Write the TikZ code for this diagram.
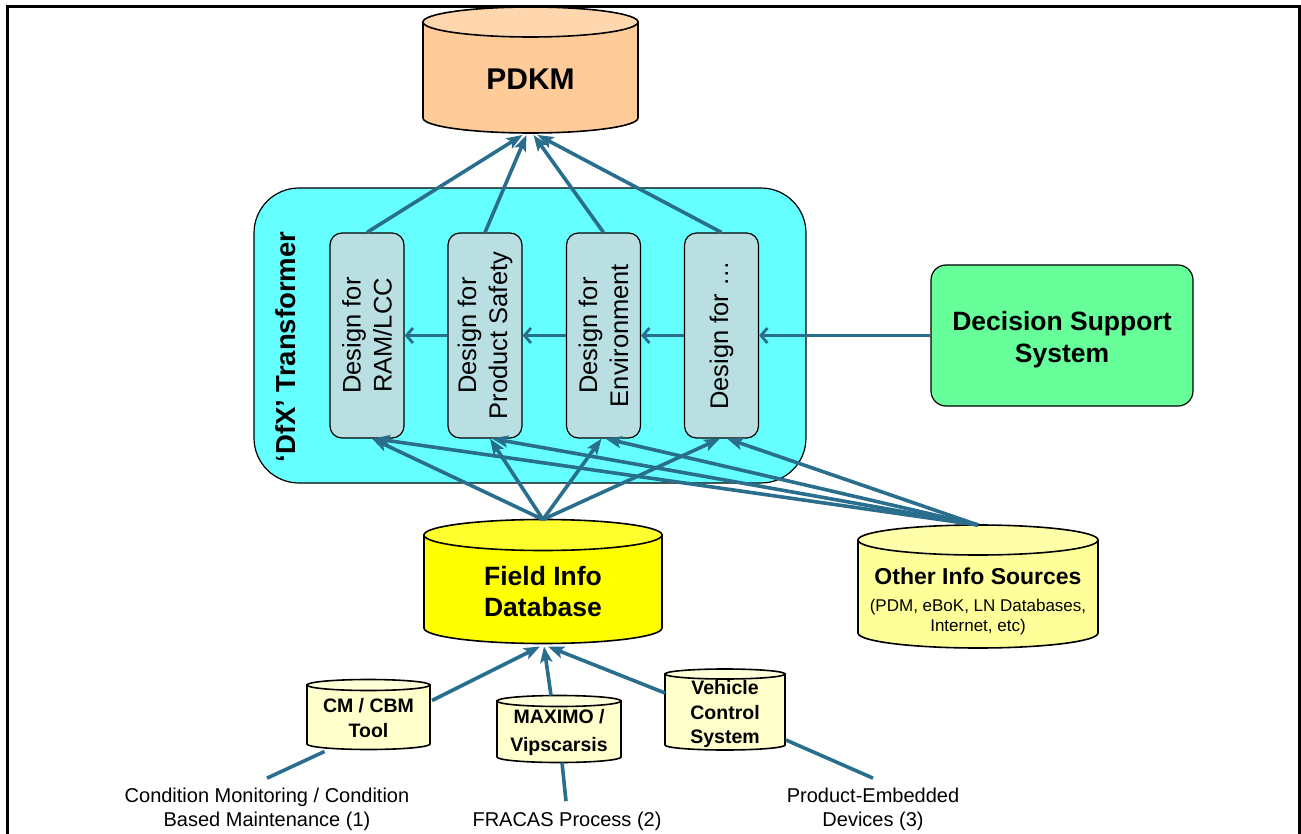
\documentclass[tikz,border=0pt]{standalone}
\usepackage{fontspec}
\setmainfont{Liberation Sans}
\usetikzlibrary{arrows.meta,calc}
\definecolor{conn}{RGB}{41,111,141}
\definecolor{pdkmbody}{HTML}{FFCC99}
\definecolor{pdkmtop}{HTML}{FFD7AE}
\definecolor{fieldbody}{HTML}{FFFF00}
\definecolor{fieldtop}{HTML}{FFFF2E}
\definecolor{otherbody}{HTML}{FFFF99}
\definecolor{othertop}{HTML}{FFFFAA}
\definecolor{smallbody}{HTML}{FFFFCC}
\definecolor{smalltop}{HTML}{FFFFD8}
\definecolor{dfxfill}{HTML}{66FFFF}
\definecolor{innerfill}{HTML}{B9DFE2}
\definecolor{dssfill}{HTML}{66FF99}
\newcommand\fsz[2]{\fontsize{#1}{#2}\selectfont}
% #1 name, #2 cx, #3 top-ellipse centre y, #4 bottom-ellipse centre y, #5 rx, #6 ry, #7 body fill, #8 top fill
\newcommand\dbcyl[8]{%
  \filldraw[cylline, fill=#7] (#2-#5,-#3) -- (#2-#5,-#4)
     arc[start angle=180,end angle=360,x radius=#5,y radius=#6] -- (#2+#5,-#3) -- cycle;
  \filldraw[cylline, fill=#8] (#2,-#3) ellipse[x radius=#5,y radius=#6];
  \node[inner sep=0pt,outer sep=0pt,minimum width={2*#5},minimum height={#4-#3+2*#6}] (#1) at (#2,{-(#3+#4)/2}) {};
}
\tikzset{
  cylline/.style={draw=black, line width=1.6pt},
  conline/.style={draw=conn, line width=3.6pt},
  darrow/.style={conline, -{Stealth[length=16pt,width=12pt,inset=3.5pt]}},
  harrow/.style={conline, -{Straight Barb[length=6.5pt,width=15pt,line width=2.8pt]}},
  innerbox/.style={draw=black, line width=1.2pt, fill=innerfill, rounded corners=12pt,
     minimum width=74pt, minimum height=205pt, inner sep=0pt},
  vtext/.style={rotate=90, align=center, font=\fsz{25.5}{31}},
}
\begin{document}
\begin{tikzpicture}[x=1pt,y=1pt]
\useasboundingbox (0,0) rectangle (1301,-834);
\draw[line width=3pt] (7.5,-834) -- (7.5,-6.5) -- (1299,-6.5) -- (1299,-834);

% DfX transformer
\node[draw=black, line width=1.2pt, fill=dfxfill, rounded corners=45pt,
      minimum width=552pt, minimum height=295pt, inner sep=0pt] (dfx) at (530,-335.5) {};
\node[rotate=90, font=\fsz{27.5}{32}\bfseries] (dfxlabel) at (286,-347) {‘DfX’ Transformer};

\node[innerbox] (b1) at (367,-335.5) {};
\node[innerbox] (b2) at (485,-335.5) {};
\node[innerbox] (b3) at (603.5,-335.5) {};
\node[innerbox] (b4) at (721.5,-335.5) {};
\node[vtext] (t1) at (b1) {Design for\\RAM/LCC};
\node[vtext] (t2) at (b2) {Design for\\Product Safety};
\node[vtext] (t3) at (b3) {Design for\\Environment};
\node[vtext] (t4) at (b4) {Design for …};

% Decision support
\node[draw=black, line width=1.2pt, fill=dssfill, rounded corners=15pt,
      minimum width=262pt, minimum height=141pt, inner sep=0pt,
      align=center, font=\fsz{26.5}{32}\bfseries] (dss) at (1062,-335.5) {};
\node[align=center, font=\fsz{26.5}{32}\bfseries] (dsstxt) at (1062,-340) {Decision Support\\System};

% Cylinders
\dbcyl{pdkm}{530.5}{22}{118}{107.5}{15}{pdkmbody}{pdkmtop}
\node[font=\fsz{30}{36}\bfseries] (pdkmtxt) at (530.5,-79) {PDKM};

\dbcyl{field}{543}{535}{628}{119}{15.5}{fieldbody}{fieldtop}
\node[align=center, font=\fsz{26.5}{31}\bfseries] (fieldtxt) at (543,-592) {Field Info\\Database};

\dbcyl{other}{978}{540}{633}{120}{15}{otherbody}{othertop}
\node[font=\fsz{23}{28}\bfseries] (othertxt) at (978,-576) {Other Info Sources};
\node[align=center, font=\fsz{17}{20}] (othersub) at (978,-617) {(PDM, eBoK, LN Databases,\\Internet, etc)};

\dbcyl{cm}{368.5}{685}{744}{61.5}{5.5}{smallbody}{smalltop}
\node[align=center, font=\fsz{19.5}{25}\bfseries] (cmtxt) at (368.5,-718) {CM / CBM\\Tool};

\dbcyl{max}{559}{701}{757}{62}{5.5}{smallbody}{smalltop}
\node[align=center, font=\fsz{19.5}{28}\bfseries] (maxtxt) at (559,-732) {MAXIMO /\\Vipscarsis};

\dbcyl{veh}{725}{674}{745}{60}{5}{smallbody}{smalltop}
\node[align=center, font=\fsz{19.5}{24.5}\bfseries] (vehtxt) at (725,-714) {Vehicle\\Control\\System};

% Bottom labels
\node[align=center, font=\fsz{20}{24}] (cmlab) at (267,-809) {Condition Monitoring / Condition\\Based Maintenance (1)};
\node[font=\fsz{20}{24}] (fraclab) at (567,-821) {FRACAS Process (2)};
\node[align=center, font=\fsz{20}{24}] (pedlab) at (873,-809) {Product-Embedded\\Devices (3)};

% Horizontal arrows
\draw[harrow] (dss.west) -- (b4.east);
\draw[harrow] (b4.west) -- (b3.east);
\draw[harrow] (b3.west) -- (b2.east);
\draw[harrow] (b2.west) -- (b1.east);

% Boxes to PDKM
\draw[darrow] (b1.north) -- ([xshift=-8pt,yshift=-2pt]pdkm.south);
\draw[darrow] (b2.north) -- ([xshift=-4pt,yshift=-2pt]pdkm.south);
\draw[darrow] (b3.north) -- ([xshift=3pt,yshift=-2pt]pdkm.south);
\draw[darrow] (b4.north) -- ([xshift=7pt,yshift=-2pt]pdkm.south);

% Field info to boxes
\draw[darrow] (field.north) -- ([xshift=5pt]b1.south);
\draw[darrow] (field.north) -- ([xshift=5pt]b2.south);
\draw[darrow] (field.north) -- ([xshift=-2pt]b3.south);
\draw[darrow] (field.north) -- ([xshift=-1.5pt]b4.south);

% Other info to boxes
\draw[darrow] (other.north) -- ([xshift=7pt]b1.south);
\draw[darrow] (other.north) -- ([xshift=7pt]b2.south);
\draw[darrow] (other.north) -- ([xshift=2pt]b3.south);
\draw[darrow] (other.north) -- ([xshift=5.5pt]b4.south);

% Sources to field info
\draw[darrow] ($(cm.east)+(2,14)$) -- ([xshift=-3pt,yshift=-3pt]field.south);
\draw[darrow] ([xshift=-8pt]max.north) -- ([xshift=1pt,yshift=-3pt]field.south);
\draw[darrow] ($(veh.west)+(0,16.5)$) -- ([xshift=5pt,yshift=-3pt]field.south);

% Labels to sources
\draw[conline] ([yshift=6pt]cmlab.north) -- ([xshift=-44pt,yshift=-2pt]cm.south);
\draw[conline] ([xshift=-1pt,yshift=7pt]fraclab.north) -- ([xshift=3pt]max.south);
\draw[conline] ([yshift=6pt]pedlab.north) -- ($(veh.east)+(1,-30.5)$);
\end{tikzpicture}
\end{document}
